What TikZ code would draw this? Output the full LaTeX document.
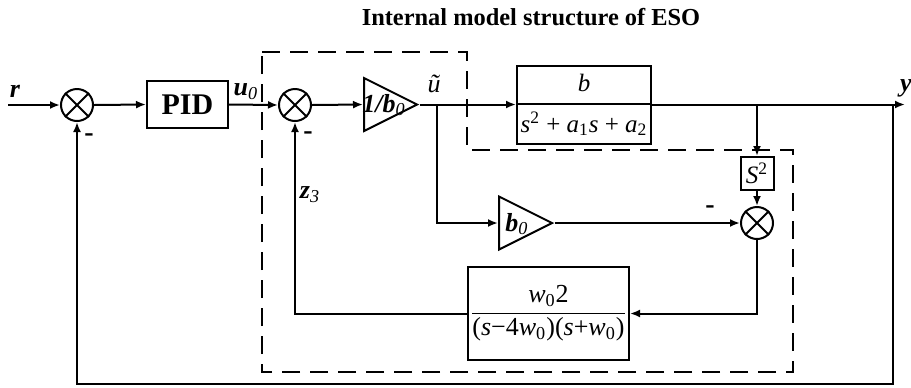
\documentclass[tikz,border=0pt]{standalone}
\usepackage{amsmath}
\usepackage{fontspec}
\setmainfont{Liberation Serif}
\usepackage{tikz}
\usetikzlibrary{positioning,arrows.meta,calc,shapes.geometric,shapes.multipart}

\tikzset{
  blk/.style={draw,line width=1pt,inner sep=0pt},
  gain/.style={draw,line width=1pt,isosceles triangle,isosceles triangle stretches,
    minimum width=26.5pt,minimum height=26.5pt,inner sep=0pt,anchor=lower side},
  sumnode/.style={draw,circle,line width=1pt,minimum size=16pt,inner sep=0pt},
  sig/.style={line width=1pt,-{Latex[length=5pt,width=4pt]}},
  wire/.style={line width=1pt},
  lbl/.style={font=\fontsize{13}{15}\selectfont\bfseries\itshape,inner sep=0pt},
  mns/.style={font=\fontsize{14}{15}\selectfont\bfseries,inner sep=0pt},
  tf/.style={font=\fontsize{12.5}{15}\selectfont},
}

\begin{document}
\begin{tikzpicture}[x=0.5pt,y=-0.5pt]
\useasboundingbox (0,0) rectangle (911,387);

\node[font=\fontsize{12.2}{14}\selectfont\bfseries] (title) at (531,17) {Internal model structure of ESO};

\coordinate (rin) at (8,105);
\node[sumnode] (sumA) at (77,105) {};
\node[blk,minimum width=40.5pt,minimum height=23.5pt,font=\fontsize{15}{17}\selectfont\bfseries] (pid) at (187.5,104.5) {PID};
\node[sumnode] (sumB) at (295,105) {};
\node[gain] (g1) at (363,104.5) {};
\node[lbl] (g1txt) at (384,105) {1/b\textsubscript{\mdseries 0}};
\node[blk,tf,rectangle split,rectangle split parts=2,minimum width=67pt,inner ysep=3.6pt] (plant) at (584,105)
  {\textit{b}\rule[-2pt]{0pt}{2pt}\nodepart{two}\textit{s}\textsuperscript{2} + \textit{a}\textsubscript{1}\textit{s} + \textit{a}\textsubscript{2}};
\coordinate (ubr) at (437,104.5);
\coordinate (ybr2) at (757,104.5);
\coordinate (ybr) at (893,104.5);
\coordinate (yout) at (905,104.5);
\coordinate (fbR) at (893,384);

\node[blk,tf,minimum width=16.5pt,minimum height=16.5pt] (sq) at (757,173.5) {\textit{S}\textsuperscript{2}};
\node[sumnode] (sumC) at (757,223) {};
\node[gain] (g2) at (498,223) {};
\node[lbl] (g2txt) at (517,224) {b\textsubscript{\mdseries 0}};
\node[blk,font=\fontsize{13}{15}\selectfont,minimum width=80.5pt,minimum height=46.5pt] (eso) at (548.5,313.5)
  {$\dfrac{\mbox{\textit{w}\textsubscript{0}2}}{\mbox{(\textit{s}−4\textit{w}\textsubscript{0})(\textit{s}+\textit{w}\textsubscript{0})}}$};

\foreach \s in {sumA,sumB,sumC}
  \draw[wire] (\s.north west) -- (\s.south east) (\s.north east) -- (\s.south west);

\draw[sig] (rin) -- (sumA.west);
\draw[sig] (sumA.east) -- (pid.west);
\draw[sig] (pid.east) -- (sumB.west);
\draw[sig] (sumB.east) -- (g1.lower side);
\draw[sig] (g1.apex) -- (g1.apex -| plant.west);
\draw[sig] (plant.east |- yout) -- (yout);
\draw[sig] (ubr) |- (g2.lower side);
\draw[sig] (g2.apex) -- (sumC.west);
\draw[sig] (ybr2) -- (sq.north);
\draw[sig] (sq.south) -- (sumC.north);
\draw[sig] (sumC.south) |- (eso.east);
\draw[sig] (eso.west) -| (sumB.south);
\draw[sig] (ybr) -- (fbR) -| (sumA.south);

\draw[line width=1pt,dash pattern=on 9pt off 5pt] (262,52) -- (467,52) -- (467,150) -- (793,150) -- (793,372) -- (262,372) -- cycle;

\node[lbl] (rlbl) at (15,91) {r};
\node[lbl] (ulbl) at (246,92) {u\textsubscript{\mdseries 0}};
\node[font=\fontsize{13}{15}\selectfont\itshape,inner sep=0pt] (utl) at (434,84) {ũ};
\node[lbl] (zlbl) at (310,195) {z\textsubscript{\mdseries 3}};
\node[lbl] (ylbl) at (906,88) {y};
\node[mns] (mA) at (89,138) {-};
\node[mns] (mB) at (308,136) {-};
\node[mns] (mC) at (710,210) {-};
\end{tikzpicture}
\end{document}
